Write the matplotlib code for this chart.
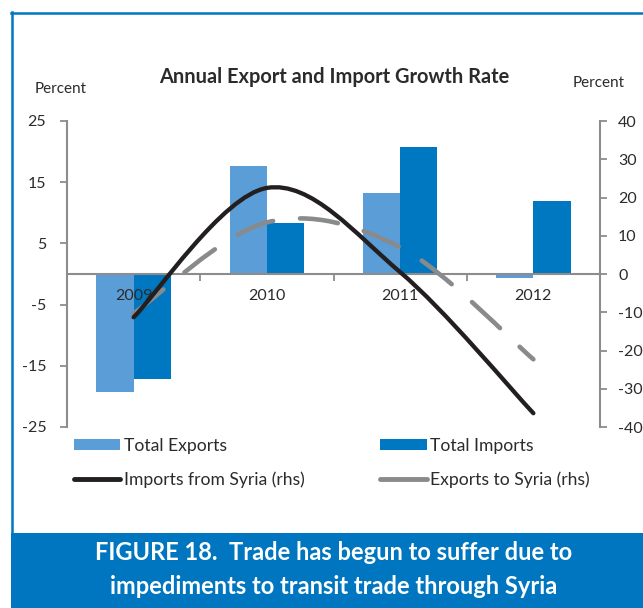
import numpy as np
import matplotlib
matplotlib.use('Agg')
import matplotlib.pyplot as plt
from matplotlib.path import Path
from matplotlib.patches import PathPatch, Rectangle, Patch
from matplotlib.lines import Line2D

plt.rcParams['font.family'] = ['Lato', 'DejaVu Sans']
plt.rcParams['lines.scale_dashes'] = False

# ---- data ----
years = ['2009', '2010', '2011', '2012']
total_exports = [-19.2, 17.6, 13.2, -0.6]
total_imports = [-17.1, 8.3, 20.8, 11.9]
imports_from_syria = [-11.3, 22.5, 0.5, -36.4]
exports_to_syria = [-10.3, 13.5, 7.0, -22.3]
left_ticks = [-25, -15, -5, 5, 15, 25]
right_ticks = [-40, -30, -20, -10, 0, 10, 20, 30, 40]

C_EXP = '#5B9DD6'
C_IMP = '#0077C1'
C_BLACK = '#231F20'
C_GRAY = '#898A8C'
C_AXIS = '#8C8C8C'
C_TEXT = '#2B2B2B'
C_BLUE = '#0076C0'

W, H = 643, 608
fig = plt.figure(figsize=(W / 100, H / 100), dpi=100)

def fx(px):
    return px / W

def fy(py):
    return 1 - py / H

ax = fig.add_axes([fx(67), fy(427), fx(600) - fx(67), fy(121) - fy(427)])
ax2 = ax.twinx()

x = np.arange(len(years))
bw = 0.28
ax.bar(x - bw / 2, total_exports, width=bw, color=C_EXP, zorder=1)
ax.bar(x + bw / 2, total_imports, width=bw, color=C_IMP, zorder=1)

ax.set_xlim(-0.5, len(years) - 0.5)
ax.set_ylim(-25, 25)
ax.set_yticks(left_ticks)
ax.set_yticklabels([str(v) for v in left_ticks])
for s in ['top', 'right']:
    ax.spines[s].set_visible(False)
ax.spines['bottom'].set_position(('data', 0))
ax.spines['bottom'].set_color(C_AXIS)
ax.spines['bottom'].set_linewidth(1.5)
ax.spines['left'].set_color(C_AXIS)
ax.spines['left'].set_linewidth(1.5)
ax.set_xticks(x)
ax.set_xticklabels(years)
ax.set_xticks(x[:-1] + 0.5, minor=True)
ax.tick_params(axis='x', which='major', length=0, pad=11, labelsize=11.5, labelcolor=C_TEXT)
ax.tick_params(axis='x', which='minor', length=5, width=1.3, color=C_AXIS, direction='out')
ax.tick_params(axis='y', length=5, width=1.3, color=C_AXIS, direction='out', labelsize=11.5,
               labelcolor=C_TEXT, pad=10)

ax2.set_ylim(-40, 40)
ax2.set_yticks(right_ticks)
ax2.set_yticklabels([str(v) for v in right_ticks])
for s in ['top', 'left', 'bottom']:
    ax2.spines[s].set_visible(False)
ax2.spines['right'].set_color(C_AXIS)
ax2.spines['right'].set_linewidth(1.5)
ax2.tick_params(axis='y', length=5, width=1.3, color=C_AXIS, direction='out', labelsize=11.5,
                labelcolor=C_TEXT, pad=8)


def smooth_path(xs, ys):
    pts = np.column_stack([xs, ys]).astype(float)
    n = len(pts)
    verts = [pts[0]]
    codes = [Path.MOVETO]
    for i in range(n - 1):
        p0 = pts[i - 1] if i > 0 else pts[i]
        p1 = pts[i]
        p2 = pts[i + 1]
        p3 = pts[i + 2] if i + 2 < n else pts[i + 1]
        c1 = p1 + (p2 - p0) / 6.0
        c2 = p2 - (p3 - p1) / 6.0
        verts += [c1, c2, p2]
        codes += [Path.CURVE4] * 3
    return Path(verts, codes)


pp_gray = PathPatch(smooth_path(x, exports_to_syria), fill=False, edgecolor=C_GRAY, lw=3.3,
                    linestyle=(0, (27.5, 19.5)), capstyle='round', joinstyle='round',
                    transform=ax2.transData, zorder=3)
ax2.add_patch(pp_gray)
pp_black = PathPatch(smooth_path(x, imports_from_syria), fill=False, edgecolor=C_BLACK, lw=3.1,
                     capstyle='round', joinstyle='round', transform=ax2.transData, zorder=4)
ax2.add_patch(pp_black)

# titles
fig.text(fx(334), fy(77), 'Annual Export and Import Growth Rate', ha='center', va='center',
         fontsize=14.4, fontweight='bold', color=C_TEXT)
fig.text(fx(61), fy(89), 'Percent', ha='center', va='center', fontsize=11, color=C_TEXT)
fig.text(fx(599), fy(83), 'Percent', ha='center', va='center', fontsize=11, color=C_TEXT)

# legend
handles = [Patch(facecolor=C_EXP), Line2D([], [], color=C_BLACK, lw=3.5, solid_capstyle='round'),
           Patch(facecolor=C_IMP), Line2D([], [], color=C_GRAY, lw=3.5, solid_capstyle='round')]
labels = ['Total Exports', 'Imports from Syria (rhs)', 'Total Imports', 'Exports to Syria (rhs)']
fig.legend(handles, labels, ncol=2, loc='upper left', bbox_to_anchor=(fx(74), fy(438)),
           frameon=False, fontsize=12.6, handlelength=2.65, handleheight=0.6, handletextpad=0.22,
           columnspacing=4.3, labelspacing=1.0, borderpad=0, borderaxespad=0,
           labelcolor=C_TEXT)

# border lines
fig.add_artist(Line2D([fx(11.5), fx(11.5)], [fy(12), fy(533)], color=C_BLUE, lw=1.8,
                      transform=fig.transFigure))
fig.add_artist(Line2D([fx(10.5), 1], [fy(12.5), fy(12.5)], color=C_BLUE, lw=1.8,
                      transform=fig.transFigure))
# caption box
fig.add_artist(Rectangle((fx(10.5), 0), 1 - fx(10.5), fy(533), facecolor=C_BLUE, edgecolor='none',
                         transform=fig.transFigure))
fig.text(fx(334), fy(553), 'FIGURE 18.  Trade has begun to suffer due to', ha='center',
         va='center', fontsize=17, fontweight='bold', color='white')
fig.text(fx(334), fy(586), 'impediments to transit trade through Syria', ha='center',
         va='center', fontsize=17, fontweight='bold', color='white')

fig.savefig('out.png', dpi=100)
